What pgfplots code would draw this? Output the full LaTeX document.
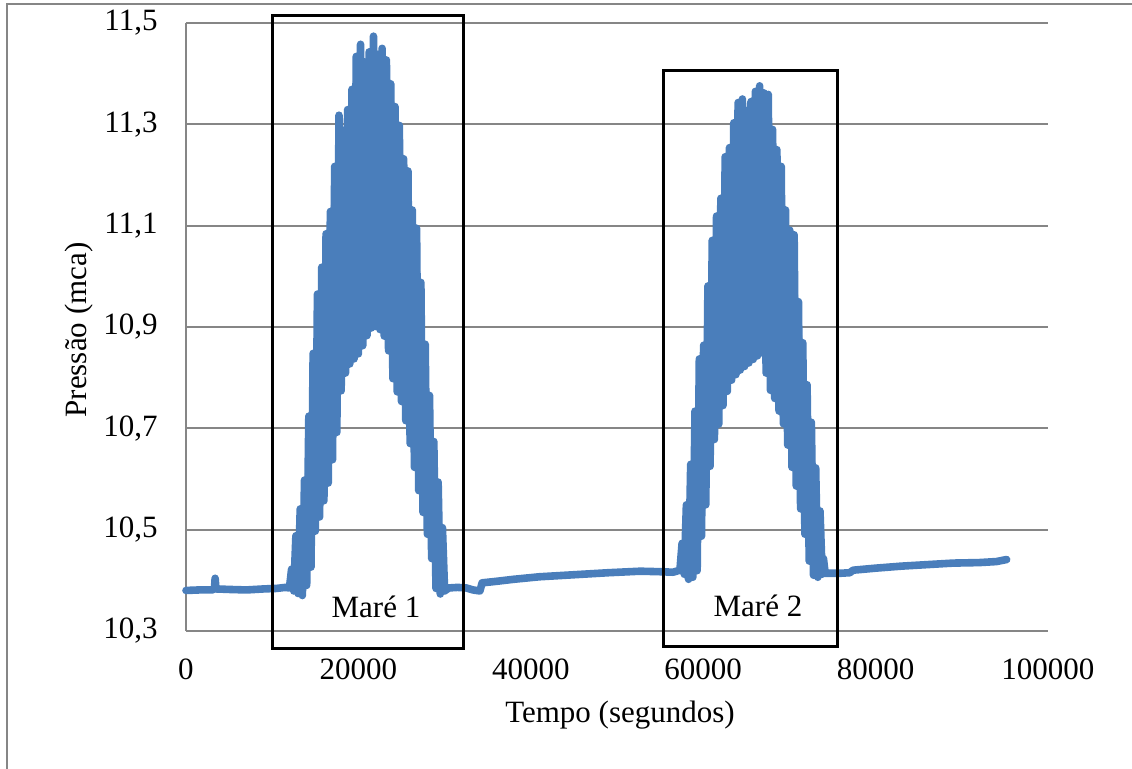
\documentclass[border=0pt]{standalone}
\usepackage{fontspec}
\setmainfont{Liberation Serif}
\usepackage{pgfplots}
\pgfplotsset{compat=1.18}
\definecolor{serie}{RGB}{74,126,187}
\definecolor{grade}{RGB}{134,134,134}
\begin{document}
\begin{tikzpicture}
\useasboundingbox (-93pt,-69pt) rectangle (473pt,315.5pt);
\draw[grade, line width=1pt] (-89.5pt,-80pt) -- (-89.5pt,313.5pt) -- (480pt,313.5pt);
\begin{axis}[
 at={(0pt,0pt)}, anchor=south west,
 scale only axis, width=431pt, height=304pt,
 xmin=0, xmax=100000, ymin=10.3, ymax=11.5,
 xtick={0,20000,40000,60000,80000,100000},
 xticklabels={{\textrm{0}},{\textrm{20000}},{\textrm{40000}},{\textrm{60000}},{\textrm{80000}},{\textrm{100000}}},
 ytick={10.3,10.5,10.7,10.9,11.1,11.3,11.5},
 yticklabels={{\textrm{10,3}},{\textrm{10,5}},{\textrm{10,7}},{\textrm{10,9}},{\textrm{11,1}},{\textrm{11,3}},{\textrm{11,5}}},
 scaled x ticks=false,
 axis x line*=bottom, axis y line*=left,
 axis line style={grade, line width=1pt, -},
 major tick length=0pt,
 ymajorgrids, major grid style={grade, line width=1pt},
 tick label style={font=\fontsize{15.5}{18}\selectfont},
 yticklabel style={inner sep=0pt, anchor=east, xshift=-14pt},
 xticklabel style={inner sep=0pt, anchor=north, yshift=-13.5pt},
 label style={font=\fontsize{15.5}{18}\selectfont},
 xlabel={Tempo (segundos)},
 xlabel style={at={(axis description cs:0.5035,-0.138)}, anchor=center},
 ylabel={Pressão (mca)},
 ylabel style={at={(axis description cs:-0.124,0.495)}, anchor=center, rotate=0},
 clip=false,
]
% envelope of tide 1 (upper readings forward, lower readings backward)
\addplot[fill=serie, draw=none] coordinates {
(12250,10.422) (12750,10.488) (13250,10.541) (13750,10.598) (14250,10.724)
(14750,10.848) (15250,10.965) (15750,11.018) (16250,11.084) (16750,11.128)
(17250,11.217) (17750,11.318) (18250,11.288) (18750,11.329) (19250,11.369)
(19750,11.434) (20250,11.458) (20750,11.423) (21250,11.443) (21750,11.474)
(22250,11.438) (22750,11.450) (23250,11.427) (23750,11.380) (24250,11.335)
(24750,11.298) (25250,11.232) (25750,11.208) (26250,11.131) (26750,11.095)
(27250,10.988) (27750,10.866) (28250,10.765) (28750,10.674) (29250,10.594)
(29750,10.504)
(29500,10.373) (29000,10.384) (28500,10.443) (28000,10.491) (27500,10.534)
(27000,10.577) (26500,10.623) (26000,10.670) (25500,10.715) (25000,10.753)
(24500,10.772) (24000,10.798) (23500,10.853) (23000,10.882) (22500,10.895)
(22000,10.901) (21500,10.898) (21000,10.883) (20500,10.863) (20000,10.847)
(19500,10.837) (19000,10.827) (18500,10.809) (18000,10.774) (17500,10.692)
(17000,10.638) (16500,10.592) (16000,10.557) (15500,10.525) (15000,10.497)
(14500,10.426) (14000,10.390) (13500,10.370) (13000,10.374) (12500,10.379)
};
% envelope of tide 2
\addplot[fill=serie, draw=none] coordinates {
(57550,10.473) (58050,10.549) (58550,10.629) (59050,10.734) (59550,10.837)
(60050,10.864) (60550,10.981) (61050,11.071) (61550,11.119) (62050,11.154)
(62550,11.236) (63050,11.254) (63550,11.303) (64050,11.343) (64550,11.350)
(65050,11.327) (65550,11.345) (66050,11.365) (66550,11.376) (67050,11.362)
(67550,11.359) (68050,11.290) (68550,11.250) (69050,11.217) (69550,11.131)
(70050,11.091) (70550,11.082) (71050,10.950) (71550,10.869) (72050,10.786)
(72550,10.712) (73050,10.622) (73550,10.537)
(73300,10.406) (72800,10.410) (72300,10.438) (71800,10.491) (71300,10.541)
(70800,10.586) (70300,10.623) (69800,10.667) (69300,10.709) (68800,10.734)
(68300,10.759) (67800,10.775) (67300,10.809) (66800,10.849) (66300,10.843)
(65800,10.836) (65300,10.829) (64800,10.822) (64300,10.815) (63800,10.806)
(63300,10.795) (62800,10.773) (62300,10.745) (61800,10.708) (61300,10.678)
(60800,10.625) (60300,10.549) (59800,10.487) (59300,10.419) (58800,10.406)
(58300,10.402) (57800,10.412)
};
\addplot[serie, line width=3.8pt, line join=round, line cap=round] coordinates {
(0,10.380) (1500,10.381) (3000,10.381) (3300,10.383) (3380,10.404) (3480,10.383)
(5000,10.382) (7000,10.381) (9000,10.383) (10500,10.384) (11500,10.386)
(12000,10.385) (12250,10.422) (12500,10.379) (12750,10.488) (13000,10.374)
(13250,10.541) (13500,10.370) (13750,10.598) (14000,10.390) (14250,10.724)
(14500,10.426) (14750,10.848) (15000,10.497) (15250,10.965) (15500,10.525)
(15750,11.018) (16000,10.557) (16250,11.084) (16500,10.592) (16750,11.128)
(17000,10.638) (17250,11.217) (17500,10.692) (17750,11.318) (18000,10.774)
(18250,11.288) (18500,10.809) (18750,11.329) (19000,10.827) (19250,11.369)
(19500,10.837) (19750,11.434) (20000,10.847) (20250,11.458) (20500,10.863)
(20750,11.423) (21000,10.883) (21250,11.443) (21500,10.898) (21750,11.474)
(22000,10.901) (22250,11.438) (22500,10.895) (22750,11.450) (23000,10.882)
(23250,11.427) (23500,10.853) (23750,11.380) (24000,10.798) (24250,11.335)
(24500,10.772) (24750,11.298) (25000,10.753) (25250,11.232) (25500,10.715)
(25750,11.208) (26000,10.670) (26250,11.131) (26500,10.623) (26750,11.095)
(27000,10.577) (27250,10.988) (27500,10.534) (27750,10.866) (28000,10.491)
(28250,10.765) (28500,10.443) (28750,10.674) (29000,10.384) (29250,10.594)
(29500,10.373) (29750,10.504) (30000,10.379)
(30500,10.385) (31500,10.386) (32500,10.385) (33300,10.381) (34100,10.379)
(34350,10.395) (36000,10.398) (38000,10.402) (41000,10.407) (44000,10.410)
(47000,10.413) (49000,10.415) (52700,10.418) (55000,10.417) (56500,10.416)
(57300,10.420) (57550,10.473) (57800,10.412) (58050,10.549) (58300,10.402)
(58550,10.629) (58800,10.406) (59050,10.734) (59300,10.419) (59550,10.837)
(59800,10.487) (60050,10.864) (60300,10.549) (60550,10.981) (60800,10.625)
(61050,11.071) (61300,10.678) (61550,11.119) (61800,10.708) (62050,11.154)
(62300,10.745) (62550,11.236) (62800,10.773) (63050,11.254) (63300,10.795)
(63550,11.303) (63800,10.806) (64050,11.343) (64300,10.815) (64550,11.350)
(64800,10.822) (65050,11.327) (65300,10.829) (65550,11.345) (65800,10.836)
(66050,11.365) (66300,10.843) (66550,11.376) (66800,10.849) (67050,11.362)
(67300,10.809) (67550,11.359) (67800,10.775) (68050,11.290) (68300,10.759)
(68550,11.250) (68800,10.734) (69050,11.217) (69300,10.709) (69550,11.131)
(69800,10.667) (70050,11.091) (70300,10.623) (70550,11.082) (70800,10.586)
(71050,10.950) (71300,10.541) (71550,10.869) (71800,10.491) (72050,10.786)
(72300,10.438) (72550,10.712) (72800,10.410) (73050,10.622) (73300,10.406)
(73550,10.537) (73800,10.412) (73950,10.443) (74150,10.414)
(76000,10.414) (77000,10.415) (77400,10.420) (80000,10.424) (83000,10.428)
(86000,10.431) (89000,10.434) (92000,10.435) (94000,10.437) (95200,10.441)
};
\draw[black, line width=1.5pt] (axis cs:10012,10.2645) rectangle (axis cs:32170,11.5144);
\draw[black, line width=1.5pt] (axis cs:55372,10.269) rectangle (axis cs:75604,11.4053);
\node[font=\fontsize{15.5}{18}\selectfont] at (axis cs:22042,10.347) {Maré 1};
\node[font=\fontsize{15.5}{18}\selectfont] at (axis cs:66358,10.349) {Maré 2};
\end{axis}
\end{tikzpicture}
\end{document}
